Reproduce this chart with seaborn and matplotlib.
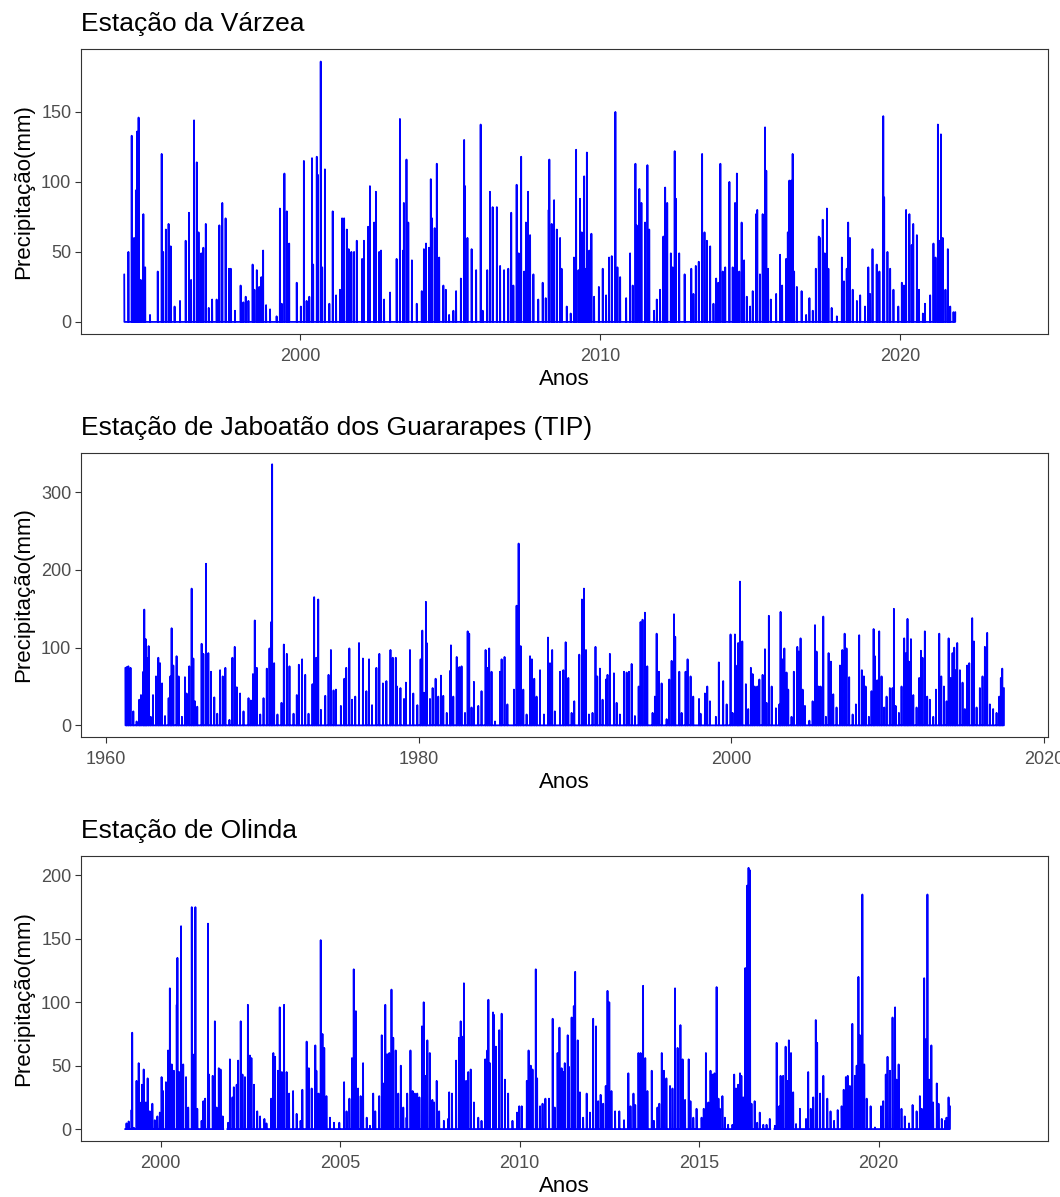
import pandas as pd
import seaborn as sns
import matplotlib.pyplot as plt
import matplotlib.dates as mdates

sns.set_theme(style='ticks')
plt.rcParams['font.family'] = ['Liberation Sans', 'DejaVu Sans']

# Estação da Várzea (ano decimal, precipitação diária em mm) - picos
varzea_ano = [
    1994.14, 1994.28, 1994.39, 1994.47, 1994.53, 1994.57, 1994.62, 1994.69, 1994.78, 1994.84,
    1995.00, 1995.26, 1995.39, 1995.44, 1995.53, 1995.62, 1995.69, 1995.82, 1996.00, 1996.19,
    1996.30, 1996.37, 1996.47, 1996.56, 1996.62, 1996.71, 1996.78, 1996.86, 1996.96, 1997.07,
    1997.22, 1997.31, 1997.41, 1997.52, 1997.63, 1997.69, 1997.83, 1998.02, 1998.11, 1998.19,
    1998.28, 1998.42, 1998.48, 1998.56, 1998.64, 1998.71, 1998.77, 1998.87, 1999.00, 1999.22,
    1999.33, 1999.39, 1999.48, 1999.56, 1999.64, 1999.89, 2000.03, 2000.13, 2000.22, 2000.31,
    2000.40, 2000.44, 2000.56, 2000.60, 2000.69, 2000.74, 2000.83, 2000.98, 2001.09, 2001.20,
    2001.33, 2001.40, 2001.47, 2001.56, 2001.62, 2001.71, 2001.80, 2001.89, 2002.07, 2002.13,
    2002.27, 2002.33, 2002.47, 2002.53, 2002.64, 2002.70, 2002.80, 2003.00, 2003.22, 2003.33,
    2003.44, 2003.46, 2003.55, 2003.61, 2003.73, 2003.89, 2004.06, 2004.13, 2004.20, 2004.30,
    2004.36, 2004.40, 2004.49, 2004.56, 2004.64, 2004.78, 2004.86, 2004.97, 2005.11, 2005.20,
    2005.36, 2005.47, 2005.50, 2005.58, 2005.72, 2005.87, 2006.02, 2006.09, 2006.24, 2006.33,
    2006.42, 2006.56, 2006.67, 2006.80, 2006.94, 2007.04, 2007.11, 2007.22, 2007.29, 2007.37,
    2007.47, 2007.53, 2007.60, 2007.67, 2007.78, 2007.94, 2008.09, 2008.19, 2008.29, 2008.31,
    2008.39, 2008.47, 2008.56, 2008.67, 2008.72, 2008.89, 2009.02, 2009.13, 2009.20, 2009.28,
    2009.33, 2009.39, 2009.47, 2009.50, 2009.56, 2009.64, 2009.71, 2009.80, 2009.96, 2010.09,
    2010.20, 2010.30, 2010.39, 2010.51, 2010.58, 2010.67, 2010.87, 2011.00, 2011.09, 2011.18,
    2011.22, 2011.31, 2011.38, 2011.50, 2011.58, 2011.64, 2011.80, 2011.89, 2012.00, 2012.11,
    2012.17, 2012.24, 2012.36, 2012.42, 2012.49, 2012.53, 2012.64, 2012.82, 2013.04, 2013.11,
    2013.19, 2013.29, 2013.40, 2013.48, 2013.56, 2013.67, 2013.78, 2013.87, 2013.94, 2014.01,
    2014.09, 2014.17, 2014.31, 2014.42, 2014.50, 2014.56, 2014.64, 2014.72, 2014.80, 2014.89,
    2015.00, 2015.09, 2015.20, 2015.24, 2015.33, 2015.42, 2015.50, 2015.54, 2015.60, 2015.69,
    2015.87, 2016.00, 2016.07, 2016.20, 2016.26, 2016.31, 2016.38, 2016.42, 2016.47, 2016.56,
    2016.72, 2016.87, 2016.98, 2017.09, 2017.19, 2017.29, 2017.33, 2017.42, 2017.49, 2017.56,
    2017.61, 2017.72, 2017.89, 2018.06, 2018.13, 2018.22, 2018.27, 2018.33, 2018.42, 2018.56,
    2018.67, 2018.83, 2018.94, 2019.00, 2019.08, 2019.22, 2019.31, 2019.44, 2019.47, 2019.58,
    2019.67, 2019.78, 2019.94, 2020.06, 2020.13, 2020.20, 2020.31, 2020.39, 2020.44, 2020.56,
    2020.63, 2020.76, 2020.83, 2021.00, 2021.11, 2021.18, 2021.26, 2021.31, 2021.36, 2021.42,
    2021.51, 2021.59, 2021.67, 2021.78, 2021.84,
]
varzea_mm = [
    34, 50, 133, 60, 94, 136, 146, 30, 77, 39,
    5, 36, 120, 50, 66, 70, 54, 11, 15, 58,
    78, 30, 144, 114, 64, 49, 53, 70, 10, 16,
    16, 69, 85, 74, 38, 38, 8, 26, 14, 18,
    15, 41, 23, 37, 25, 32, 51, 12, 9, 4,
    81, 13, 106, 79, 56, 28, 11, 115, 15, 18,
    117, 41, 118, 105, 186, 39, 109, 13, 79, 19,
    23, 74, 74, 66, 52, 50, 50, 58, 45, 58,
    68, 97, 71, 93, 50, 51, 16, 21, 45, 145,
    51, 85, 116, 71, 44, 13, 22, 52, 56, 53,
    102, 74, 67, 113, 46, 26, 23, 5, 8, 22,
    31, 130, 97, 60, 52, 37, 141, 8, 37, 93,
    82, 82, 40, 37, 38, 78, 26, 98, 49, 118,
    36, 71, 93, 62, 34, 16, 28, 17, 80, 116,
    70, 87, 66, 60, 38, 11, 6, 46, 123, 37,
    88, 64, 104, 38, 121, 51, 63, 18, 25, 38,
    19, 46, 47, 150, 39, 32, 17, 49, 26, 113,
    69, 95, 85, 71, 112, 66, 8, 16, 23, 61,
    96, 85, 49, 39, 122, 88, 49, 34, 38, 20,
    40, 43, 120, 64, 58, 54, 13, 31, 28, 113,
    36, 39, 100, 39, 85, 106, 36, 71, 44, 18,
    11, 22, 77, 80, 34, 77, 139, 108, 38, 16,
    20, 48, 26, 45, 64, 101, 101, 120, 36, 25,
    22, 5, 17, 8, 38, 61, 60, 73, 49, 81,
    38, 10, 4, 46, 29, 38, 71, 60, 23, 15,
    19, 11, 39, 20, 52, 41, 36, 147, 89, 50,
    38, 23, 11, 28, 26, 80, 77, 55, 70, 62,
    23, 6, 13, 19, 56, 46, 141, 58, 134, 60,
    23, 52, 11, 7, 7,
]

# Estação de Jaboatão dos Guararapes (TIP)
jaboatao_ano = [
    1961.24, 1961.32, 1961.43, 1961.57, 1961.75, 1961.96, 1962.13, 1962.24, 1962.39, 1962.45,
    1962.54, 1962.60, 1962.73, 1962.86, 1963.01, 1963.20, 1963.35, 1963.46, 1963.59, 1963.78,
    1964.01, 1964.12, 1964.20, 1964.31, 1964.52, 1964.65, 1964.86, 1965.05, 1965.16, 1965.33,
    1965.48, 1965.59, 1965.69, 1965.84, 1966.12, 1966.23, 1966.40, 1966.55, 1966.72, 1966.93,
    1967.12, 1967.30, 1967.47, 1967.64, 1967.90, 1968.09, 1968.24, 1968.37, 1968.58, 1968.80,
    1969.12, 1969.27, 1969.40, 1969.52, 1969.65, 1969.87, 1970.08, 1970.29, 1970.46, 1970.57,
    1970.63, 1970.76, 1970.97, 1971.23, 1971.38, 1971.57, 1971.74, 1972.00, 1972.21, 1972.34,
    1972.55, 1972.75, 1972.96, 1973.21, 1973.32, 1973.45, 1973.58, 1973.75, 1974.03, 1974.24,
    1974.39, 1974.56, 1974.71, 1975.03, 1975.25, 1975.37, 1975.57, 1975.74, 1975.95, 1976.19,
    1976.44, 1976.66, 1976.83, 1977.02, 1977.30, 1977.49, 1977.72, 1977.94, 1978.20, 1978.35,
    1978.54, 1978.62, 1978.84, 1979.07, 1979.19, 1979.45, 1979.66, 1979.92, 1980.13, 1980.24,
    1980.35, 1980.47, 1980.52, 1980.73, 1980.90, 1981.09, 1981.26, 1981.43, 1981.58, 1981.80,
    1982.01, 1982.07, 1982.22, 1982.44, 1982.61, 1982.75, 1982.97, 1983.14, 1983.24, 1983.39,
    1983.54, 1983.82, 1984.03, 1984.29, 1984.40, 1984.52, 1984.67, 1984.89, 1985.21, 1985.31,
    1985.50, 1985.68, 1986.10, 1986.27, 1986.40, 1986.53, 1986.70, 1986.91, 1987.13, 1987.25,
    1987.40, 1987.55, 1987.77, 1988.02, 1988.28, 1988.41, 1988.55, 1988.72, 1989.05, 1989.26,
    1989.41, 1989.58, 1989.79, 1989.96, 1990.28, 1990.45, 1990.58, 1990.71, 1990.90, 1991.13,
    1991.32, 1991.43, 1991.60, 1991.77, 1991.99, 1992.09, 1992.24, 1992.50, 1992.67, 1992.88,
    1993.14, 1993.31, 1993.46, 1993.63, 1993.84, 1994.08, 1994.20, 1994.33, 1994.48, 1994.63,
    1994.97, 1995.12, 1995.23, 1995.38, 1995.55, 1995.87, 1996.04, 1996.19, 1996.34, 1996.42,
    1996.68, 1996.83, 1997.08, 1997.21, 1997.40, 1997.57, 1997.94, 1998.04, 1998.32, 1998.47,
    1998.64, 1999.02, 1999.21, 1999.49, 1999.71, 1999.96, 2000.09, 2000.24, 2000.39, 2000.45,
    2000.56, 2000.71, 2000.94, 2001.09, 2001.26, 2001.37, 2001.50, 2001.67, 2001.80, 2002.01,
    2002.16, 2002.26, 2002.41, 2002.59, 2002.86, 2003.08, 2003.16, 2003.27, 2003.40, 2003.54,
    2003.65, 2003.86, 2004.01, 2004.23, 2004.33, 2004.44, 2004.57, 2004.72, 2005.00, 2005.21,
    2005.36, 2005.46, 2005.59, 2005.72, 2005.89, 2006.06, 2006.23, 2006.38, 2006.53, 2006.74,
    2006.96, 2007.11, 2007.26, 2007.38, 2007.55, 2007.77, 2007.98, 2008.19, 2008.36, 2008.49,
    2008.60, 2008.81, 2008.98, 2009.11, 2009.19, 2009.34, 2009.47, 2009.62, 2009.79, 2009.94,
    2010.15, 2010.32, 2010.41, 2010.52, 2010.73, 2010.90, 2011.07, 2011.18, 2011.28, 2011.37,
    2011.50, 2011.65, 2011.86, 2012.03, 2012.14, 2012.24, 2012.39, 2012.54, 2012.71, 2012.93,
    2013.10, 2013.31, 2013.44, 2013.61, 2013.78, 2013.91, 2014.03, 2014.16, 2014.27, 2014.35,
    2014.46, 2014.63, 2014.80, 2014.95, 2015.10, 2015.23, 2015.42, 2015.53, 2015.70, 2015.91,
    2016.08, 2016.23, 2016.38, 2016.55, 2016.76, 2016.98, 2017.15, 2017.25, 2017.34, 2017.45,
]
jaboatao_mm = [
    74, 75, 76, 74, 18, 5, 33, 39, 69, 149,
    111, 87, 102, 11, 39, 63, 87, 80, 54, 12,
    35, 63, 125, 77, 89, 63, 11, 62, 41, 76,
    176, 86, 31, 24, 105, 92, 208, 93, 69, 36,
    15, 71, 63, 74, 7, 87, 101, 49, 41, 18,
    35, 32, 66, 135, 74, 14, 35, 73, 99, 133,
    336, 80, 14, 29, 104, 92, 76, 15, 39, 78,
    85, 65, 15, 53, 165, 87, 162, 20, 38, 65,
    97, 45, 46, 25, 60, 74, 99, 33, 37, 106,
    86, 44, 85, 26, 74, 92, 54, 57, 97, 87,
    87, 50, 48, 34, 55, 97, 41, 26, 85, 122,
    42, 159, 106, 34, 48, 60, 37, 64, 38, 16,
    70, 103, 37, 88, 75, 76, 16, 121, 118, 23,
    56, 25, 44, 97, 74, 99, 69, 5, 69, 85,
    88, 27, 46, 154, 234, 102, 46, 14, 89, 85,
    60, 37, 71, 14, 113, 80, 97, 18, 69, 71,
    107, 61, 16, 31, 91, 162, 176, 97, 14, 16,
    101, 63, 73, 33, 59, 65, 92, 67, 29, 14,
    69, 68, 69, 79, 12, 50, 133, 136, 145, 76,
    16, 37, 118, 69, 54, 8, 59, 83, 143, 114,
    69, 16, 69, 85, 63, 37, 34, 15, 41, 50,
    31, 11, 81, 57, 27, 117, 16, 117, 77, 106,
    185, 108, 53, 21, 74, 66, 50, 50, 59, 65,
    98, 29, 141, 50, 22, 27, 146, 85, 99, 68,
    46, 11, 69, 101, 95, 112, 46, 25, 6, 31,
    129, 95, 50, 50, 140, 11, 93, 82, 40, 23,
    77, 97, 118, 99, 62, 14, 27, 116, 71, 63,
    50, 11, 44, 124, 89, 58, 121, 63, 23, 37,
    48, 48, 150, 25, 16, 50, 112, 93, 137, 82,
    111, 39, 23, 61, 96, 87, 121, 37, 33, 11,
    46, 118, 63, 50, 31, 112, 61, 93, 100, 71,
    106, 71, 55, 21, 77, 80, 138, 108, 23, 48,
    63, 101, 119, 27, 21, 16, 37, 61, 73, 48,
]

# Estação de Olinda
olinda_ano = [
    1999.01, 1999.05, 1999.11, 1999.19, 1999.21, 1999.26, 1999.33, 1999.39, 1999.42, 1999.48,
    1999.53, 1999.59, 1999.64, 1999.70, 1999.77, 1999.84, 1999.91, 1999.98, 2000.03, 2000.07,
    2000.15, 2000.21, 2000.26, 2000.31, 2000.37, 2000.45, 2000.47, 2000.52, 2000.57, 2000.63,
    2000.71, 2000.77, 2000.87, 2000.94, 2000.97, 2001.02, 2001.14, 2001.19, 2001.24, 2001.32,
    2001.35, 2001.45, 2001.51, 2001.56, 2001.62, 2001.67, 2001.73, 2001.88, 2001.93, 2002.00,
    2002.04, 2002.12, 2002.16, 2002.23, 2002.28, 2002.35, 2002.43, 2002.49, 2002.53, 2002.60,
    2002.69, 2002.77, 2002.89, 2002.95, 2003.08, 2003.14, 2003.19, 2003.27, 2003.32, 2003.38,
    2003.44, 2003.51, 2003.58, 2003.69, 2003.79, 2003.90, 2003.95, 2004.07, 2004.13, 2004.21,
    2004.31, 2004.34, 2004.40, 2004.46, 2004.51, 2004.56, 2004.62, 2004.72, 2004.83, 2004.98,
    2005.11, 2005.18, 2005.26, 2005.33, 2005.38, 2005.44, 2005.50, 2005.57, 2005.64, 2005.74,
    2005.83, 2005.92, 2005.98, 2006.09, 2006.16, 2006.22, 2006.26, 2006.31, 2006.37, 2006.43,
    2006.48, 2006.55, 2006.62, 2006.69, 2006.76, 2006.85, 2006.87, 2006.96, 2007.02, 2007.08,
    2007.15, 2007.21, 2007.28, 2007.33, 2007.37, 2007.43, 2007.50, 2007.57, 2007.62, 2007.69,
    2007.76, 2007.89, 2008.01, 2008.04, 2008.12, 2008.23, 2008.31, 2008.36, 2008.39, 2008.45,
    2008.51, 2008.57, 2008.64, 2008.73, 2008.85, 2008.94, 2009.04, 2009.10, 2009.13, 2009.17,
    2009.26, 2009.29, 2009.34, 2009.43, 2009.50, 2009.59, 2009.68, 2009.80, 2009.93, 2009.99,
    2010.06, 2010.20, 2010.25, 2010.31, 2010.36, 2010.45, 2010.49, 2010.57, 2010.64, 2010.72,
    2010.82, 2010.92, 2010.98, 2011.06, 2011.11, 2011.17, 2011.22, 2011.26, 2011.34, 2011.38,
    2011.45, 2011.51, 2011.55, 2011.62, 2011.68, 2011.77, 2011.87, 2011.96, 2012.05, 2012.13,
    2012.19, 2012.26, 2012.33, 2012.40, 2012.45, 2012.50, 2012.56, 2012.66, 2012.78, 2012.91,
    2013.03, 2013.09, 2013.17, 2013.22, 2013.31, 2013.37, 2013.44, 2013.50, 2013.56, 2013.68,
    2013.74, 2013.84, 2013.89, 2013.96, 2014.02, 2014.09, 2014.19, 2014.26, 2014.33, 2014.40,
    2014.48, 2014.54, 2014.61, 2014.71, 2014.76, 2014.84, 2014.93, 2015.07, 2015.13, 2015.19,
    2015.26, 2015.32, 2015.38, 2015.43, 2015.49, 2015.54, 2015.58, 2015.65, 2015.72, 2015.81,
    2015.93, 2015.98, 2016.03, 2016.09, 2016.14, 2016.18, 2016.23, 2016.29, 2016.34, 2016.38,
    2016.42, 2016.46, 2016.55, 2016.62, 2016.69, 2016.79, 2016.88, 2016.97, 2017.11, 2017.16,
    2017.23, 2017.27, 2017.34, 2017.41, 2017.46, 2017.50, 2017.56, 2017.62, 2017.70, 2017.81,
    2017.98, 2018.04, 2018.11, 2018.18, 2018.25, 2018.29, 2018.37, 2018.46, 2018.57, 2018.66,
    2018.76, 2018.86, 2018.97, 2019.03, 2019.09, 2019.14, 2019.20, 2019.27, 2019.34, 2019.39,
    2019.44, 2019.48, 2019.55, 2019.60, 2019.67, 2019.78, 2019.90, 2020.07, 2020.13, 2020.20,
    2020.25, 2020.32, 2020.39, 2020.46, 2020.50, 2020.56, 2020.64, 2020.73, 2020.85, 2020.95,
    2021.06, 2021.15, 2021.20, 2021.27, 2021.32, 2021.36, 2021.41, 2021.47, 2021.52, 2021.62,
    2021.67, 2021.76, 2021.85, 2021.89, 2021.95, 2021.99,
]
olinda_mm = [
    0, 4.5, 6, 15, 76, 1, 38, 52, 21, 35,
    47, 21, 40, 14, 20, 7, 10, 13, 41, 30,
    37, 62, 111, 51, 46, 98, 135, 45, 160, 51,
    41, 17, 175, 59, 175, 16, 6.5, 22, 24, 162,
    43, 42, 85, 17, 48, 47, 10, 5, 55, 25,
    33, 35, 54, 85, 43, 41, 98, 58, 56, 35,
    14, 10, 8, 4.5, 24, 60, 57, 46, 96, 45,
    98, 45, 28, 30, 12, 6.5, 31, 69, 48, 32,
    66, 46, 28, 149, 75, 64, 26, 9, 5, 5,
    37, 14, 24, 56, 126, 93, 32, 26, 52, 9,
    2.6, 28, 14, 26, 74, 36, 98, 59, 60, 110,
    72, 62, 28, 50, 17, 9, 28, 62, 30, 28,
    28, 25, 81, 100, 42, 70, 60, 23, 21, 38,
    14, 6.5, 8, 29, 28, 54, 72, 85, 73, 115,
    38, 45, 47, 21, 9, 6.5, 55, 62, 102, 52,
    92, 90, 65, 78, 91, 39, 28, 6.5, 13, 18,
    18, 38, 62, 50, 47, 126, 40, 18, 20, 24,
    24, 87, 17, 60, 80, 48, 45, 52, 74, 49,
    88, 97, 124, 70, 29, 9, 28, 13, 87, 81,
    22, 27, 20, 34, 109, 100, 30, 14, 14, 7,
    44, 18, 28, 19, 60, 60, 113, 56, 30, 46,
    6.5, 17, 20, 60, 46, 40, 34, 32, 111, 64,
    82, 55, 23, 55, 22, 9, 16, 9, 16, 60,
    21, 46, 43, 44, 112, 24, 16, 26, 9, 3.4,
    3.4, 43, 32, 35, 44, 42, 25, 127, 192, 206,
    204, 20, 22, 5, 13, 3.4, 3.4, 8, 2.6, 68,
    18, 42, 42, 65, 38, 70, 60, 29, 4, 16,
    8, 45, 16, 25, 86, 68, 28, 42, 24, 14,
    6.5, 15, 18, 31, 41, 42, 34, 83, 42, 50,
    120, 74, 185, 51, 24, 18, 1.3, 18, 22, 43,
    57, 46, 88, 96, 39, 51, 16, 10, 4.5, 19,
    14, 26, 16, 119, 71, 185, 39, 66, 21, 36,
    20, 8, 6.5, 9, 25, 18,
]
olinda_lacunas = [(2001.75, 2001.85), (2016.99, 2017.09)]

estacoes = [
    ('Estação da Várzea', varzea_ano, varzea_mm, [], (1992.70, 2024.93), (-8.6, 195), [0, 50, 100, 150], 10),
    ('Estação de Jaboatão dos Guararapes (TIP)', jaboatao_ano, jaboatao_mm, [], (1958.40, 2020.27), (-15, 350.6), [0, 100, 200, 300], 20),
    ('Estação de Olinda', olinda_ano, olinda_mm, olinda_lacunas, (1997.78, 2024.72), (-9.2, 215), [0, 50, 100, 150, 200], 5),
]


def para_data(a):
    ano = int(a)
    return pd.Timestamp(year=ano, month=1, day=1) + pd.Timedelta(days=(a - ano) * 365.25)


def serie_diaria(anos, mm, lacunas):
    s = pd.Series(mm, index=[para_data(a).normalize() for a in anos], dtype=float)
    s = s.groupby(level=0).max()
    dias = pd.date_range(s.index.min(), s.index.max(), freq='D')
    s = s.reindex(dias, fill_value=0.0)  # dias sem chuva
    for ini, fim in lacunas:
        s[(s.index > para_data(ini)) & (s.index < para_data(fim))] = float('nan')
    df = pd.DataFrame({'data': s.index, 'mm': s.values})
    df['trecho'] = df['mm'].isna().cumsum()
    return df.dropna()


fig = plt.figure(figsize=(10.6, 11.97), dpi=100)
posicoes = [
    [0.0764, 0.7210, 0.9123, 0.2381],
    [0.0764, 0.3843, 0.9123, 0.2373],
    [0.0764, 0.0470, 0.9123, 0.2375],
]

for pos, (titulo, anos, mm, lacunas, xlim, ylim, yticks, passo) in zip(posicoes, estacoes):
    ax = fig.add_axes(pos)
    df = serie_diaria(anos, mm, lacunas)
    sns.lineplot(data=df, x='data', y='mm', units='trecho', estimator=None,
                 color='#0000FF', linewidth=1.3, ax=ax)
    ax.set_xlim(para_data(xlim[0]), para_data(xlim[1]))
    ax.set_ylim(*ylim)
    ax.set_yticks(yticks)
    ax.xaxis.set_major_locator(mdates.YearLocator(passo))
    ax.xaxis.set_major_formatter(mdates.DateFormatter('%Y'))
    ax.set_title(titulo, loc='left', fontsize=19, pad=13, color='black')
    ax.set_xlabel('Anos', fontsize=16, labelpad=3, color='black')
    ax.set_ylabel('Precipitação(mm)', fontsize=16, labelpad=5, color='black')
    ax.tick_params(axis='both', labelsize=13, labelcolor='#4D4D4D', color='#333333',
                   length=4, width=0.8)
    ax.tick_params(axis='x', pad=6)
    ax.tick_params(axis='y', pad=3)
    for lado in ['top', 'right', 'bottom', 'left']:
        ax.spines[lado].set_visible(True)
        ax.spines[lado].set_color('#333333')
        ax.spines[lado].set_linewidth(0.8)

fig.savefig('out.png', dpi=100, facecolor='white')
